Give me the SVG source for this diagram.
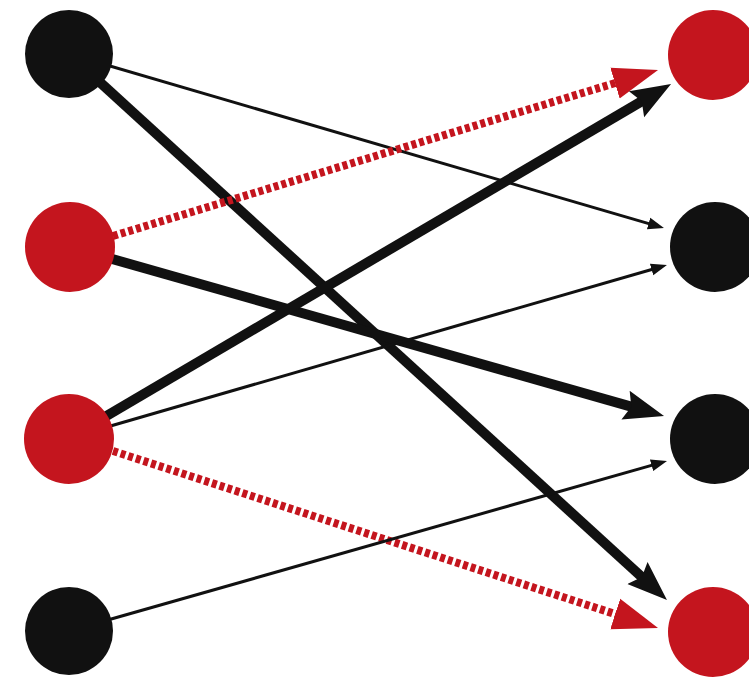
<svg xmlns="http://www.w3.org/2000/svg" width="749" height="692" viewBox="0 0 749 692">
<style>
.bk{fill:#111111}
.rd{fill:#c4151e}
.thin{stroke:#111111;stroke-width:3;fill:none;marker-end:url(#hThin)}
.thick{stroke:#111111;stroke-width:10;fill:none;marker-end:url(#hThick)}
.dot{stroke:#c4151e;stroke-width:8;stroke-dasharray:5 3;fill:none;marker-end:url(#hRed)}
</style>
<defs>
<marker id="hThin" markerUnits="userSpaceOnUse" markerWidth="18" markerHeight="14" refX="10" refY="7" orient="auto"><path d="M0,1 L16,7 L0,13 Z" fill="#111111"/></marker>
<marker id="hThick" markerUnits="userSpaceOnUse" markerWidth="42" markerHeight="32" refX="25" refY="16" orient="auto"><path d="M0,1 L40,16 L0,31 L6,16 Z" fill="#111111"/></marker>
<marker id="hRed" markerUnits="userSpaceOnUse" markerWidth="46" markerHeight="34" refX="25" refY="17" orient="auto"><path d="M0,1 L45,17 L0,33 Z" fill="#c4151e"/></marker>
</defs>
<rect width="749" height="692" fill="#ffffff"/>
<g id="connectors">
<line class="thin" x1="69" y1="54" x2="658.2" y2="226.4"/>
<line class="thick" x1="69" y1="54" x2="655.9" y2="589.9"/>
<line class="dot" x1="113" y1="236" x2="638.9" y2="75.8"/>
<line class="thick" x1="70" y1="247" x2="649.6" y2="411.9"/>
<line class="thick" x1="69" y1="438" x2="658.1" y2="91.6"/>
<line class="thin" x1="69" y1="438" x2="661.2" y2="266.7"/>
<line class="dot" x1="113" y1="451" x2="639" y2="621.8"/>
<line class="thin" x1="69" y1="631" x2="661.2" y2="462.6"/>
</g>
<g id="L1"><circle class="bk" cx="69" cy="54" r="44"/></g>
<g id="L2"><circle class="rd" cx="70" cy="247" r="45"/></g>
<g id="L3"><circle class="rd" cx="69" cy="439" r="45"/></g>
<g id="L4"><circle class="bk" cx="69" cy="631" r="44"/></g>
<g id="R1"><circle class="rd" cx="713" cy="55" r="45"/></g>
<g id="R2"><circle class="bk" cx="715" cy="247" r="45"/></g>
<g id="R3"><circle class="bk" cx="715" cy="439" r="45"/></g>
<g id="R4"><circle class="rd" cx="713" cy="632" r="45"/></g>
</svg>
